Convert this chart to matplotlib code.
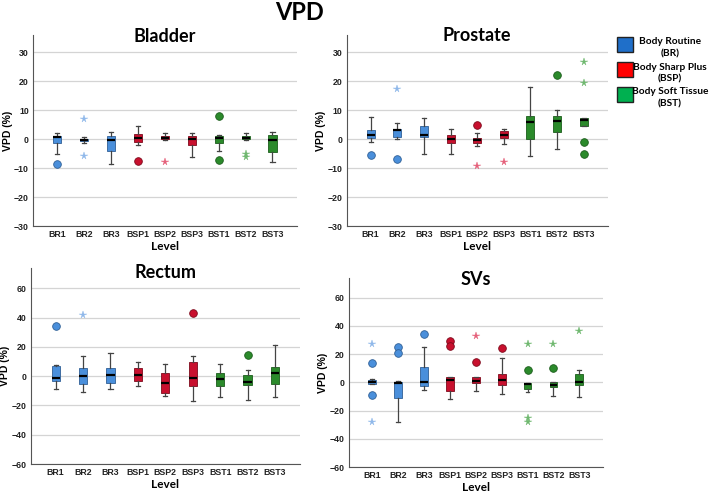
import matplotlib
matplotlib.use("Agg")
import matplotlib.pyplot as plt
from matplotlib.patches import Rectangle

levels = ["BR1", "BR2", "BR3", "BSP1", "BSP2", "BSP3", "BST1", "BST2", "BST3"]
groups = ["BR", "BR", "BR", "BSP", "BSP", "BSP", "BST", "BST", "BST"]

# ---- Bladder ----
bladder_q1 = [-1.5, -0.8, -4.2, -1.0, 0.0, -2.0, -1.5, 0.0, -4.5]
bladder_med = [0.8, -0.3, -0.2, 0.5, 0.3, 0.0, 0.3, 0.5, -0.3]
bladder_q3 = [1.0, 0.2, 1.2, 1.8, 1.2, 1.0, 1.0, 1.2, 1.5]
bladder_lo = [-5.0, -1.2, -8.5, -2.0, -0.3, -6.3, -4.0, -0.3, -8.0]
bladder_hi = [2.0, 0.8, 2.5, 4.5, 2.0, 2.0, 1.5, 2.2, 2.3]
bladder_circ = [[-8.5], [], [], [-7.5], [], [], [8.0, -7.3], [], []]
bladder_star = [[], [7.0, -6.0], [], [], [-7.8], [], [], [-5.3, -6.3], []]

# ---- Prostate ----
prostate_q1 = [0.3, 0.7, 0.7, -1.5, -1.5, 0.3, 0.0, 2.5, 4.5]
prostate_med = [1.5, 3.0, 1.5, 0.0, -0.3, 1.5, 6.0, 6.3, 6.5]
prostate_q3 = [3.2, 3.5, 4.5, 1.4, 0.5, 2.7, 8.0, 8.0, 7.2]
prostate_lo = [-1.0, 0.0, -5.3, -5.0, -2.5, -1.7, -6.0, -3.5, 4.5]
prostate_hi = [7.8, 5.5, 7.3, 3.5, 2.0, 3.5, 18.0, 10.0, 7.2]
prostate_circ = [[-5.5], [-7.0], [], [], [4.8], [], [], [22.3], [-1.0, -5.0]]
prostate_star = [[], [17.3], [], [], [-9.3], [-7.8], [], [], [26.5, 19.5]]

# ---- Rectum ----
rectum_q1 = [-3.0, -5.0, -4.5, -3.0, -11.5, -7.0, -7.0, -6.0, -5.5]
rectum_med = [-1.0, 0.0, 1.0, 1.0, -4.5, -1.0, -2.0, -4.0, 2.0]
rectum_q3 = [7.0, 5.5, 5.5, 5.5, 2.0, 9.5, 2.5, 1.0, 6.5]
rectum_lo = [-9.0, -11.0, -9.0, -7.0, -13.5, -17.0, -14.5, -16.5, -14.0]
rectum_hi = [7.5, 14.0, 16.0, 10.0, 8.5, 13.5, 8.5, 4.0, 21.0]
rectum_circ = [[34.0], [], [], [], [], [43.0], [], [14.5], []]
rectum_star = [[], [42.0], [], [], [], [], [], [], []]

# ---- SVs ----
svs_q1 = [-1.0, -11.0, -2.5, -6.0, -0.5, -2.0, -5.0, -3.5, -2.0]
svs_med = [0.5, -0.5, 0.5, 1.5, 1.0, 1.5, -1.0, -2.0, 0.5]
svs_q3 = [1.5, 0.5, 11.0, 3.5, 3.5, 6.0, -0.5, 0.5, 6.0]
svs_lo = [-1.5, -28.0, -5.5, -12.0, -6.5, -8.0, -7.0, -9.5, -10.5]
svs_hi = [2.5, 1.0, 25.0, 3.5, 3.5, 17.0, -0.5, 0.5, 9.0]
svs_circ = [[14.0, -9.0], [25.0, 20.5], [34.5], [29.0, 26.0], [14.5], [24.0], [8.5], [10.0], []]
svs_star = [[27.0, -28.0], [], [], [], [33.0], [], [27.0, -25.0, -28.0], [27.0], [36.0]]

box_colors = {"BR": "#4a8fdb", "BSP": "#c8102e", "BST": "#2b8a2b"}
edge_colors = {"BR": "#2f5f95", "BSP": "#7d0a1c", "BST": "#1b5c1b"}
star_colors = {"BR": "#8fb8ea", "BSP": "#e5607a", "BST": "#6fb86f"}

legend_labels = [("Body Routine", "(BR)"), ("Body Sharp Plus", "(BSP)"), ("Body Soft Tissue", "(BST)")]
legend_colors = ["#1f6fc9", "#ff0000", "#00b050"]

fig = plt.figure(figsize=(7.09, 4.94), dpi=100)

title_font = ["Lato", "DejaVu Sans"]
tick_font = ["Liberation Sans", "DejaVu Sans"]

fig.text(0.423, 0.975, "VPD", ha="center", va="center", fontsize=17,
         fontweight="bold", family=title_font)


def panel(rect, name, title_y, q1, med, q3, lo, hi, circ, star, ylim, yticks):
    ax = fig.add_axes(rect)
    stats = []
    for i in range(len(levels)):
        stats.append(dict(med=med[i], q1=q1[i], q3=q3[i], whislo=lo[i],
                          whishi=hi[i], fliers=[], label=levels[i]))
    pos = list(range(1, len(levels) + 1))
    bp = ax.bxp(stats, positions=pos, widths=0.3, patch_artist=True,
                showfliers=False,
                medianprops=dict(color="black", linewidth=1.6),
                whiskerprops=dict(color="#444444", linewidth=0.9),
                capprops=dict(color="#444444", linewidth=0.9),
                boxprops=dict(linewidth=0.6),
                capwidths=0.15)
    for i, b in enumerate(bp["boxes"]):
        b.set_facecolor(box_colors[groups[i]])
        b.set_edgecolor(edge_colors[groups[i]])
    for i in range(len(levels)):
        g = groups[i]
        if circ[i]:
            ax.plot([pos[i]] * len(circ[i]), circ[i], "o", ms=5.5,
                    mfc=box_colors[g], mec=edge_colors[g], mew=0.6, zorder=4)
        if star[i]:
            ax.plot([pos[i]] * len(star[i]), star[i], "*", ms=5.5,
                    mfc=star_colors[g], mec=star_colors[g], mew=0.3, zorder=4)
    ax.set_xlim(0.1, 9.9)
    ax.set_ylim(*ylim)
    ax.set_yticks(yticks)
    ax.yaxis.grid(True, color="#d4d4d4", linewidth=0.9)
    ax.set_axisbelow(True)
    for s in ["top", "right"]:
        ax.spines[s].set_visible(False)
    for s in ["left", "bottom"]:
        ax.spines[s].set_color("#555555")
        ax.spines[s].set_linewidth(0.8)
    ax.tick_params(axis="both", length=0, labelsize=6.3, colors="#222222")
    ax.tick_params(axis="x", pad=3)
    ax.tick_params(axis="y", pad=3)
    for lab in ax.get_xticklabels() + ax.get_yticklabels():
        lab.set_family(tick_font)
        lab.set_fontweight("bold")
    ax.set_xlabel("Level", fontsize=8.5, fontweight="bold", family=title_font, labelpad=1)
    ax.set_ylabel("VPD (%)", fontsize=7.5, fontweight="bold", family=tick_font, labelpad=1)
    ax.text(0.5, title_y, name, transform=ax.transAxes, ha="center", va="center",
            fontsize=13, fontweight="bold", family=title_font)
    return ax


panel([0.0465, 0.5425, 0.372, 0.387], "Bladder", 0.99, bladder_q1, bladder_med, bladder_q3,
      bladder_lo, bladder_hi, bladder_circ, bladder_star, (-30, 36), [-30, -20, -10, 0, 10, 20, 30])
panel([0.489, 0.5425, 0.368, 0.387], "Prostate", 0.995, prostate_q1, prostate_med, prostate_q3,
      prostate_lo, prostate_hi, prostate_circ, prostate_star, (-30, 36), [-30, -20, -10, 0, 10, 20, 30])
panel([0.0437, 0.0607, 0.379, 0.397], "Rectum", 0.974, rectum_q1, rectum_med, rectum_q3,
      rectum_lo, rectum_hi, rectum_circ, rectum_star, (-60, 74), [-60, -40, -20, 0, 20, 40, 60])
panel([0.492, 0.0546, 0.358, 0.383], "SVs", 0.99, svs_q1, svs_med, svs_q3,
      svs_lo, svs_hi, svs_circ, svs_star, (-60, 74), [-60, -40, -20, 0, 20, 40, 60])

# legend (manual)
W, H = 709.0, 494.0
patch_tops = [37, 62, 87]
for (l1, l2), col, top in zip(legend_labels, legend_colors, patch_tops):
    fig.patches.append(Rectangle((617 / W, 1 - (top + 15) / H), 16 / W, 15 / H,
                                 transform=fig.transFigure, facecolor=col,
                                 edgecolor="#222222", linewidth=1.0))
    fig.text(670 / W, 1 - (top + 5) / H, l1, ha="center", va="center", fontsize=7.3,
             fontweight="bold", family=title_font)
    fig.text(670 / W, 1 - (top + 17) / H, l2, ha="center", va="center", fontsize=7.3,
             fontweight="bold", family=title_font)

fig.savefig("out.png", dpi=100)
